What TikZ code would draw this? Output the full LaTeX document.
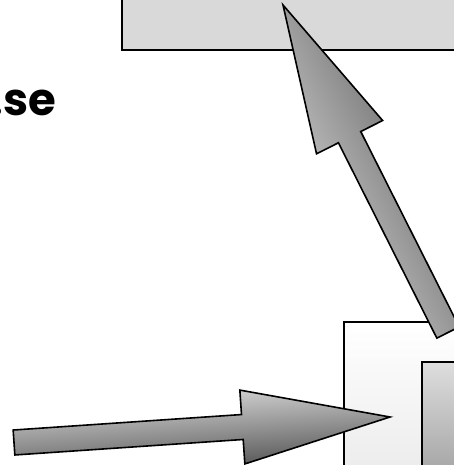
\documentclass[tikz,border=0pt]{standalone}
\usepackage{fontspec}
\newfontfamily\domainfont{Poppins}
\usetikzlibrary{calc}

% wide block arrow from #2 (tail) to #3 (tip)
\newcommand\fatarrow[3][]{%
  \coordinate (h) at ($(#3)!148pt!(#2)$);
  \draw[fat arrow,#1] ($(#2)!12.5pt!90:(#3)$) -- ($(h)!12.5pt!-90:(#2)$)
    -- ($(h)!37pt!-90:(#2)$) -- (#3) -- ($(h)!37pt!90:(#2)$)
    -- ($(h)!12.5pt!90:(#2)$) -- ($(#2)!12.5pt!-90:(#3)$) -- cycle;
}

\begin{document}
\begin{tikzpicture}[x=1pt,y=-1pt,
    box/.style={draw,line width=1.6pt,inner sep=0pt},
    fat arrow/.style={draw,line width=1.6pt,top color=black!12,bottom color=black!68}]
  \useasboundingbox (0,0) rectangle (454,465);

  \node[box,fill=black!15,minimum width=400pt,minimum height=100pt,anchor=south west] (server) at (121,51) {};
  \node[box,top color=white,bottom color=black!8,minimum width=200pt,minimum height=160pt,anchor=north west] (client) at (343,321) {};
  \node[box,top color=black!13,bottom color=black!35,minimum width=100pt,minimum height=110pt,anchor=north west] (screen) at (421,361) {};

  \node[inner sep=0pt,anchor=base east,font=\domainfont\bfseries\fontsize{45}{45}\selectfont] (domain) at (56.5,116) {.se};

  \coordinate (in tail) at (14,442.5);
  \coordinate (in tip) at (390,417);
  \coordinate (up tail) at ($(client.north west)+(105,11.5)$);
  \coordinate (up tip) at (283,5);

  \fatarrow[shading angle=4]{in tail}{in tip}
  \fatarrow[shading angle=117]{up tail}{up tip}
\end{tikzpicture}
\end{document}
